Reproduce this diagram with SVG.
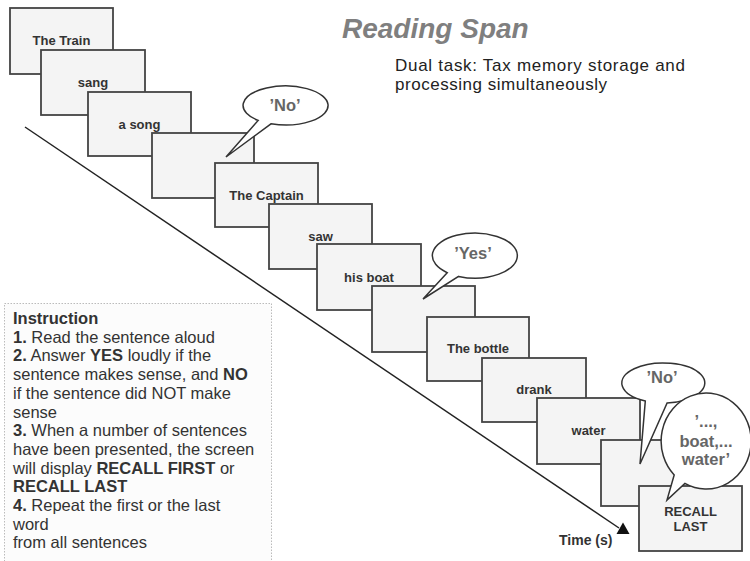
<svg xmlns="http://www.w3.org/2000/svg" width="750" height="561" viewBox="0 0 750 561">
<style>
.card{fill:#f4f4f4;stroke:#444;stroke-width:1.8}
.ct{font-family:"Liberation Sans",Arial,sans-serif;font-weight:bold;font-size:13px;fill:#333;text-anchor:middle}
.bub{fill:#fff;stroke:#333;stroke-width:1.5;stroke-linejoin:miter}
.bt{font-family:"Liberation Sans",Arial,sans-serif;font-weight:bold;font-size:16.5px;fill:#666;text-anchor:middle}
.it{font-family:"Liberation Sans",Arial,sans-serif;font-size:16.5px;fill:#333}
.b{font-weight:bold}
.sub{font-family:"Liberation Sans",Arial,sans-serif;font-size:17px;fill:#222}
</style>
<rect width="750" height="561" fill="#fff"/>

<g id="title">
<text x="342" y="38" font-family="Liberation Sans,Arial,sans-serif" font-size="28" font-weight="bold" font-style="italic" fill="#7f7f7f">Reading Span</text>
<text class="sub" x="395" y="71" textLength="290" lengthAdjust="spacing">Dual task: Tax memory storage and</text>
<text class="sub" x="395" y="90" textLength="212" lengthAdjust="spacing">processing simultaneously</text>
</g>

<g id="instruction">
<rect x="4.5" y="303.5" width="267" height="270" fill="#fcfcfc" stroke="#bbb" stroke-width="1" stroke-dasharray="1.5 1.5"/>
<text class="it" x="13" y="324"><tspan class="b">Instruction</tspan></text>
<text class="it" x="13" y="342.7"><tspan class="b">1.</tspan> Read the sentence aloud</text>
<text class="it" x="13" y="361.4"><tspan class="b">2.</tspan> Answer <tspan class="b">YES</tspan> loudly if the</text>
<text class="it" x="13" y="380.1">sentence makes sense, and <tspan class="b">NO</tspan></text>
<text class="it" x="13" y="398.8">if the sentence did NOT make</text>
<text class="it" x="13" y="417.5">sense</text>
<text class="it" x="13" y="436.2"><tspan class="b">3.</tspan> When a number of sentences</text>
<text class="it" x="13" y="454.9">have been presented, the screen</text>
<text class="it" x="13" y="473.6">will display <tspan class="b">RECALL FIRST</tspan> or</text>
<text class="it" x="13" y="492.3"><tspan class="b">RECALL LAST</tspan></text>
<text class="it" x="13" y="511"><tspan class="b">4.</tspan> Repeat the first or the last</text>
<text class="it" x="13" y="529.7">word</text>
<text class="it" x="13" y="548.4">from all sentences</text>
</g>

<g id="connectors">
<line x1="25" y1="127" x2="619" y2="528" stroke="#222" stroke-width="1.5"/>
<polygon points="623,522.5 616.5,534 629.5,534" fill="#111"/>
<text x="559" y="545" font-family="Liberation Sans,Arial,sans-serif" font-size="14" font-weight="bold" fill="#333">Time (s)</text>
</g>

<g id="card1"><rect class="card" x="10" y="8" width="103" height="66"/><text class="ct" x="61.5" y="45">The Train</text></g>
<g id="card2"><rect class="card" x="41" y="50" width="104" height="65"/><text class="ct" x="93" y="87">sang</text></g>
<g id="card3"><rect class="card" x="88" y="92" width="103" height="64"/><text class="ct" x="139.5" y="128.5">a song</text></g>
<g id="card4"><rect class="card" x="152" y="133" width="102" height="65"/></g>
<g id="bubble1"><path class="bub" d="M258.2 120.4 A42.5 19.5 0 1 1 271 123.8 L226 157 Z"/><text class="bt" x="285" y="111">’No’</text></g>
<g id="card5"><rect class="card" x="215" y="163" width="103" height="64"/><text class="ct" x="266.5" y="200">The Captain</text></g>
<g id="card6"><rect class="card" x="269" y="204" width="103" height="65"/><text class="ct" x="320.5" y="241">saw</text></g>
<g id="card7"><rect class="card" x="317" y="244" width="104" height="66"/><text class="ct" x="369" y="281.5">his boat</text></g>
<g id="card8"><rect class="card" x="372" y="286" width="103" height="66"/></g>
<g id="bubble2"><path class="bub" d="M447.2 272.7 A42.5 22.5 0 1 1 458.6 276.4 L423 299 Z"/><text class="bt" x="473" y="259">’Yes’</text></g>
<g id="card9"><rect class="card" x="427" y="317" width="102" height="64"/><text class="ct" x="478" y="353">The bottle</text></g>
<g id="card10"><rect class="card" x="482" y="358" width="104" height="64"/><text class="ct" x="534" y="394">drank</text></g>
<g id="card11"><rect class="card" x="537" y="398" width="103" height="66"/><text class="ct" x="588.5" y="435">water</text></g>
<g id="card12"><rect class="card" x="601" y="440" width="103" height="66"/></g>
<g id="bubble3"><path class="bub" d="M645.3 401 A41.5 20 0 1 1 667.1 402.9 L640 464 Z"/><text class="bt" x="662" y="383">’No’</text></g>
<g id="card13"><rect class="card" x="639" y="486" width="103" height="65"/><text class="ct" x="690.5" y="516">RECALL</text><text class="ct" x="690.5" y="531">LAST</text></g>
<g id="bubble4"><path class="bub" d="M674.2 474.9 A45 48 0 1 1 684.9 483.4 L667 500 Z"/>
<text class="bt" x="706" y="427" font-size="16">’...,</text>
<text class="bt" x="706" y="447" font-size="16">boat,...</text>
<text class="bt" x="706" y="465" font-size="16">water’</text></g>
</svg>
